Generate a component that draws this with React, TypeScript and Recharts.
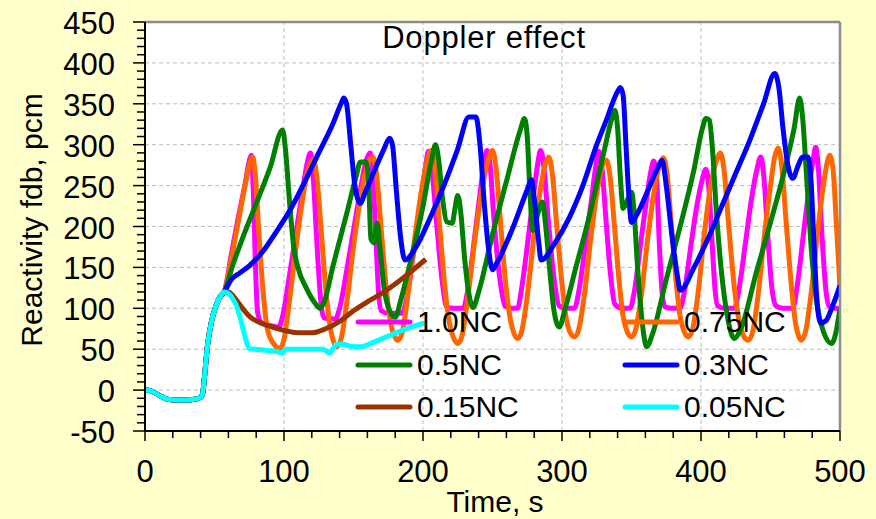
import React from 'react';
import {
  CartesianGrid,
  Legend,
  Line,
  LineChart,
  ReferenceLine,
  XAxis,
  YAxis,
} from 'recharts';

const FONT = '"Liberation Sans", Arial, sans-serif';

// shared start-up transient (all cases coincide until ~57 s)
const startup: [number, number][] = [
  [0, 0], [4, -1], [8, -4], [12, -8], [16, -11], [22, -12], [30, -12], [36, -11],
  [40, -9], [41.5, -4], [43, 20], [45, 55], [48, 85], [51, 103], [54, 114], [57, 120],
];

const nc100: [number, number][] = [
  [62, 165], [67, 210], [72, 252], [75, 280], [76.5, 287], [78, 240], [79.5, 150], [81, 95],
  [84, 82], [90, 79], [96, 77], [99, 90], [103, 130], [108, 185], [113, 240], [117, 280],
  [119, 290], [121, 260], [124, 170], [127, 100], [129, 88], [137, 87], [140, 100], [145, 145],
  [150, 195], [155, 245], [159, 280], [162, 290], [164, 260], [166, 190], [168, 120], [170, 97],
  [175, 94], [185, 94], [188, 110], [193, 165], [198, 225], [202, 275], [204, 292], [206, 275],
  [210, 200], [214, 130], [217, 102], [222, 100], [229, 100], [232, 120], [237, 185], [241, 240],
  [244, 278], [246, 293], [248, 280], [251, 210], [255, 140], [259, 103], [263, 100], [268, 100],
  [271, 125], [276, 190], [280, 245], [283, 282], [284.5, 293], [286.5, 280], [290, 210], [294, 140],
  [298, 103], [303, 100], [309, 100], [312, 120], [317, 180], [321, 230], [324, 270], [326.5, 292],
  [328.5, 275], [332, 200], [335, 140], [338, 105], [343, 100], [349, 100], [352, 120], [357, 185],
  [361, 235], [364, 268], [366, 280], [368, 260], [370, 180], [372, 120], [374, 102], [379, 100],
  [385, 100], [388, 120], [393, 180], [397, 225], [401, 258], [403.5, 270], [405.5, 250], [408, 180],
  [410, 125], [412, 103], [417, 100], [424, 100], [427, 120], [432, 180], [436, 230], [440, 268],
  [443, 285], [445, 265], [448, 190], [451, 125], [454, 103], [459, 100], [466, 100], [469, 125],
  [474, 195], [478, 250], [481, 285], [482.5, 297], [484.5, 270], [487, 190], [490, 120], [492, 103],
  [496, 100], [500, 100],
];

const nc075: [number, number][] = [
  [62, 160], [67, 205], [72, 250], [75.5, 278], [77.5, 285], [79.5, 260], [82, 190], [85, 120],
  [88, 75], [92, 58], [97, 51], [100, 62], [104, 110], [109, 180], [114, 240], [118, 274],
  [121, 282], [123.5, 262], [127, 190], [130, 125], [133, 80], [135.5, 60], [138, 53], [141, 62],
  [145, 105], [150, 175], [155, 235], [160, 275], [164, 285], [166.5, 265], [170, 195], [173.5, 125],
  [177, 80], [179.5, 66], [182, 61], [185, 70], [189, 115], [194, 185], [199, 245], [203, 280],
  [206, 293], [208.5, 272], [212, 200], [215.5, 130], [219, 82], [222, 64], [225, 57], [228, 66],
  [232, 110], [237, 180], [242, 240], [247, 282], [250, 293], [252.5, 272], [256, 200], [259.5, 130],
  [263, 85], [265.5, 69], [268, 63], [271, 72], [275, 115], [280, 190], [284, 240], [288, 276],
  [290.5, 285], [293, 265], [296.5, 195], [300, 130], [303, 88], [306, 70], [309, 65], [312, 74],
  [316, 115], [321, 190], [325, 240], [329, 274], [332, 281], [334.5, 262], [338, 195], [341, 135],
  [344, 90], [347, 71], [350, 65], [353, 74], [357, 115], [362, 190], [366, 240], [370, 274],
  [373, 284], [375.5, 265], [379, 195], [382, 135], [385, 90], [388, 71], [391, 65], [394, 75],
  [398, 120], [403, 200], [407, 250], [411, 280], [414, 290], [416.5, 270], [420, 200], [424, 125],
  [428, 80], [431, 65], [434, 61], [437, 70], [441, 115], [446, 195], [450, 250], [453, 285],
  [455.5, 296], [458, 275], [461.5, 200], [465, 128], [468, 82], [470, 67], [472, 61], [475, 70],
  [479, 115], [484, 195], [488, 250], [491, 280], [492.5, 287], [495, 270], [497.5, 200], [500, 125],
];

const nc050: [number, number][] = [
  [63, 152], [70, 185], [80, 228], [90, 272], [99, 318], [101, 295], [104, 230], [107, 175],
  [110, 150], [116, 125], [122, 107], [126, 100], [129, 108], [135, 150], [145, 215], [152, 262],
  [155, 279], [159, 279], [161, 250], [162.5, 185], [165, 180], [167, 204], [169, 175], [172, 125],
  [176, 97], [180, 89], [184, 110], [190, 150], [200, 225], [206, 280], [209, 300], [211, 285],
  [214, 235], [217, 206], [221, 204], [223, 222], [225, 238], [227, 220], [230, 160], [233, 118],
  [236, 101], [240, 120], [250, 190], [260, 255], [270, 318], [273, 332], [275, 310], [277, 240],
  [279, 195], [282, 212], [286, 230], [288, 205], [291, 150], [294, 100], [298, 77], [302, 98],
  [310, 150], [320, 215], [330, 290], [336, 333], [338, 342], [340, 320], [342, 260], [344, 222],
  [347, 232], [350, 242], [352, 215], [354, 160], [357, 95], [361, 53], [365, 68], [375, 135],
  [385, 200], [395, 270], [401, 320], [403.5, 332], [406, 330], [408, 300], [411, 220], [415, 140],
  [419, 90], [424, 63], [428, 72], [440, 145], [450, 205], [460, 268], [467, 320], [471, 357],
  [473, 335], [476, 260], [479, 180], [483, 110], [488, 72], [494, 57], [497, 70], [500, 100],
];

const nc030: [number, number][] = [
  [62, 135], [68, 143], [75, 152], [85, 170], [95, 195], [105, 222], [115, 255], [125, 290],
  [135, 325], [141, 350], [143, 357], [145, 350], [148, 300], [151, 250], [155, 228], [158, 240],
  [165, 268], [172, 295], [176, 308], [178, 300], [181, 240], [184, 185], [187, 159], [195, 175],
  [205, 210], [215, 250], [225, 295], [233, 334], [238, 334], [241, 300], [244, 230], [247, 175],
  [250, 147], [253, 155], [265, 200], [275, 245], [278, 257], [280, 235], [283, 185], [285, 159],
  [295, 180], [305, 210], [315, 250], [325, 300], [331, 326], [340, 365], [342, 370], [344, 360],
  [346, 300], [348, 240], [350, 205], [354, 215], [362, 245], [369, 272], [372, 281], [375, 250],
  [379, 190], [383, 140], [385, 122], [395, 150], [405, 185], [415, 225], [425, 265], [435, 305],
  [445, 350], [453, 387], [456, 370], [459, 320], [462, 280], [466, 259], [470, 275], [473, 285],
  [477, 285], [479, 260], [481, 190], [483, 120], [486, 82], [490, 85], [494, 100], [498, 118],
  [500, 128],
];

const nc015: [number, number][] = [
  [60, 120], [64, 114], [68, 105], [72, 96], [76, 89], [82, 83], [90, 78], [100, 73],
  [110, 70], [120, 70], [130, 75], [140, 84], [150, 97], [160, 108], [170, 118], [181, 131],
  [190, 143], [202, 160],
];

const nc005: [number, number][] = [
  [60, 118], [63, 112], [66, 102], [69, 85], [72, 65], [75, 51], [85, 49], [95, 47],
  [99, 45], [101, 50], [110, 50], [120, 50], [128, 50], [131, 47], [133, 45], [135, 50],
  [138, 56], [142, 56], [150, 53], [155, 53], [165, 59], [175, 66], [185, 73], [195, 79],
  [201, 82],
];

const xMajor = [0, 100, 200, 300, 400, 500];
const yMajor = [-50, 0, 50, 100, 150, 200, 250, 300, 350, 400, 450];
const xMinor = Array.from({ length: 26 }, (_, i) => i * 20);
const yMinor = Array.from({ length: 51 }, (_, i) => -50 + i * 10);
const gridX = [100, 200, 300, 400];
const gridY = [0, 50, 100, 150, 200, 250, 300, 350, 400];

const toPts = (arr: [number, number][]) =>
  [...startup, ...arr].map(([t, v]) => ({ t, v }));

const series = [
  { name: '1.0NC', color: '#FF00FF', data: toPts(nc100) },
  { name: '0.75NC', color: '#FF6600', data: toPts(nc075) },
  { name: '0.5NC', color: '#008000', data: toPts(nc050) },
  { name: '0.3NC', color: '#0000FF', data: toPts(nc030) },
  { name: '0.15NC', color: '#993300', data: toPts(nc015) },
  { name: '0.05NC', color: '#00FFFF', data: toPts(nc005) },
];

const YTick = (props: any) => {
  const { x, y, payload } = props;
  const major = payload.value % 50 === 0;
  return (
    <g>
      <line x1={x - (major ? 12 : 8)} x2={x} y1={y} y2={y} stroke="#000" strokeWidth={1.5} />
      {major && (
        <text x={x - 30} y={y} dy={12} textAnchor="end" fontSize={31} fontFamily={FONT} fill="#000">
          {payload.value}
        </text>
      )}
    </g>
  );
};

const XTick = (props: any) => {
  const { x, y, payload } = props;
  const major = payload.value % 100 === 0;
  return (
    <g>
      <line x1={x} x2={x} y1={y} y2={y + (major ? 10 : 7)} stroke="#000" strokeWidth={1.5} />
      {major && (
        <text x={x} y={y + 51} textAnchor="middle" fontSize={31} fontFamily={FONT} fill="#000">
          {payload.value}
        </text>
      )}
    </g>
  );
};

const renderLegend = () => (
  <div
    style={{
      display: 'grid',
      gridTemplateColumns: '267px 200px',
      gridAutoRows: '42.5px',
      fontFamily: FONT,
      fontSize: 30,
      color: '#000',
    }}
  >
    {series.map((s) => (
      <div key={s.name} style={{ display: 'flex', alignItems: 'center', lineHeight: '42px' }}>
        <svg width={58} height={8} style={{ marginRight: 4 }}>
          <line x1={3} y1={4} x2={55} y2={4} stroke={s.color} strokeWidth={5} strokeLinecap="round" />
        </svg>
        <span>{s.name}</span>
      </div>
    ))}
  </div>
);

export default function App() {
  return (
    <div
      style={{
        position: 'absolute',
        left: 0,
        top: 0,
        width: 876,
        height: 519,
        background: '#FFFFCC',
        fontFamily: FONT,
      }}
    >
      <LineChart width={876} height={519} margin={{ top: 22, right: 36, bottom: 0, left: 0 }}>
        <CartesianGrid fill="#FFFFFF" horizontal={false} vertical={false} />
        {gridY.map((v) => (
          <ReferenceLine key={`gy${v}`} y={v} stroke="#BDBDBD" strokeDasharray="4 3" />
        ))}
        {gridX.map((v) => (
          <ReferenceLine key={`gx${v}`} x={v} stroke="#BDBDBD" strokeDasharray="4 3" />
        ))}
        <XAxis
          type="number"
          dataKey="t"
          domain={[0, 500]}
          ticks={xMinor}
          interval={0}
          height={88}
          tickSize={0}
          tickMargin={0}
          tickLine={false}
          tick={<XTick />}
          axisLine={{ stroke: '#000', strokeWidth: 2 }}
          allowDataOverflow
        />
        <YAxis
          type="number"
          domain={[-50, 450]}
          ticks={yMinor}
          interval={0}
          width={145}
          tickSize={0}
          tickMargin={0}
          tickLine={false}
          tick={<YTick />}
          axisLine={{ stroke: '#000', strokeWidth: 2 }}
          allowDataOverflow
        />
        {series.map((s) => (
          <Line
            key={s.name}
            data={s.data}
            dataKey="v"
            name={s.name}
            type="monotone"
            stroke={s.color}
            strokeWidth={5}
            dot={false}
            activeDot={false}
            isAnimationActive={false}
          />
        ))}
        <ReferenceLine y={450} stroke="#8C8C8C" strokeWidth={2.5} />
        <ReferenceLine x={500} stroke="#8C8C8C" strokeWidth={2.5} />
        <Legend
          layout="horizontal"
          verticalAlign="middle"
          align="center"
          wrapperStyle={{ left: 355, top: 301, width: 480 }}
          content={renderLegend}
        />
      </LineChart>
      <div
        style={{
          position: 'absolute',
          left: 284,
          top: 22,
          width: 400,
          textAlign: 'center',
          fontSize: 31,
          lineHeight: '31px',
          letterSpacing: 0.8,
        }}
      >
        Doppler effect
      </div>
      <svg width={876} height={519} style={{ position: 'absolute', left: 0, top: 0, pointerEvents: 'none' }}>
        <text
          transform="translate(42,220) rotate(-90)"
          textAnchor="middle"
          fontSize={30}
          fontFamily={FONT}
          fill="#000"
        >
          Reactivity fdb, pcm
        </text>
        <text x={495} y={512} textAnchor="middle" fontSize={30} fontFamily={FONT} fill="#000">
          Time, s
        </text>
      </svg>
    </div>
  );
}
